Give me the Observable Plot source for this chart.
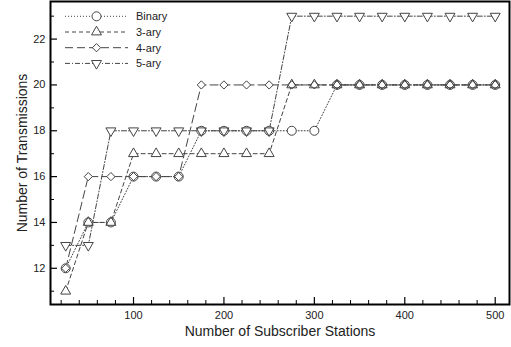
<!DOCTYPE html>
<html><head><meta charset="utf-8">
<script src="https://cdn.jsdelivr.net/npm/d3@7"></script>
<script src="https://cdn.jsdelivr.net/npm/@observablehq/plot@0.6"></script>
<style>
body{margin:0;background:#fff;font-family:"Liberation Sans",Arial,sans-serif;}
#wrap{position:relative;width:511px;height:347px;}
#legend{position:absolute;left:60px;top:8px;}
</style></head><body><div id="wrap"></div>
<script>
// ---- data ----
const stations = [25,50,75,100,125,150,175,200,225,250,275,300,325,350,375,400,425,450,475,500];
const binary = [12,14,14,16,16,16,18,18,18,18,18,18,20,20,20,20,20,20,20,20];
const ary3   = [11,14,14,17,17,17,17,17,17,17,20,20,20,20,20,20,20,20,20,20];
const ary4   = [12,16,16,16,16,16,20,20,20,20,20,20,20,20,20,20,20,20,20,20];
const ary5   = [13,13,18,18,18,18,18,18,18,18,23,23,23,23,23,23,23,23,23,23];
const seriesNames = ["Binary","3-ary","4-ary","5-ary"];
const xMajorTicks = [100,200,300,400,500];
const xMinorTicks = [20,40,60,80,120,140,160,180,220,240,260,280,320,340,360,380,420,440,460,480];
const yMajorTicks = [12,14,16,18,20,22];
const yMinorTicks = [11,13,15,17,19,21,23];
const xLabel = "Number of Subscriber Stations";
const yLabel = "Number of Transmissions";

// ---- styles ----
const styles = [
  {name: seriesNames[0], values: binary, dash: "1,2",     symbol: "circle",   r: 4.5, rotate: 0},
  {name: seriesNames[1], values: ary3,   dash: "4,3",     symbol: "triangle", r: 3.7, rotate: 0},
  {name: seriesNames[2], values: ary4,   dash: "8,4",     symbol: "diamond2", r: 3.7, rotate: 0},
  {name: seriesNames[3], values: ary5,   dash: "5,2,1,2", symbol: "triangle", r: 3.7, rotate: 180}
];
const lineColor = "#444";
const markColor = "#444";

const W = 511, H = 347;
const mL = 50, mR = 2, mT = 1, mB = 43;
const plotW = W - mL - mR, plotH = H - mT - mB;

const tables = styles.map(s => stations.map((x, i) => ({x, y: s.values[i], series: s.name})));

const marks = [];
styles.forEach((s, k) => {
  marks.push(Plot.line(tables[k], {x: "x", y: "y", stroke: lineColor, strokeWidth: 1, strokeDasharray: s.dash}));
});
styles.forEach((s, k) => {
  marks.push(Plot.dot(tables[k], {x: "x", y: "y", symbol: s.symbol, r: s.r, rotate: s.rotate, fill: "white", stroke: "none"}));
});
styles.forEach((s, k) => {
  marks.push(Plot.dot(tables[k], {x: "x", y: "y", symbol: s.symbol, r: s.r, rotate: s.rotate, fill: "none", stroke: markColor, strokeWidth: 1}));
});
// ticks (inward)
marks.push(Plot.ruleX(xMajorTicks, {x: d => d, insetTop: plotH - 7, stroke: "#000", strokeWidth: 1.2}));
marks.push(Plot.ruleX(xMinorTicks, {x: d => d, insetTop: plotH - 4, stroke: "#000", strokeWidth: 1}));
marks.push(Plot.ruleY(yMajorTicks, {y: d => d, insetRight: plotW - 7, stroke: "#000", strokeWidth: 1.2}));
marks.push(Plot.ruleY(yMinorTicks, {y: d => d, insetRight: plotW - 4, stroke: "#000", strokeWidth: 1}));
marks.push(Plot.axisX(xMajorTicks, {tickSize: 0, tickPadding: 7, fontSize: 11, label: null, fill: "#222"}));
marks.push(Plot.axisY(yMajorTicks, {tickSize: 0, tickPadding: 5, fontSize: 11, label: null, fill: "#222"}));
marks.push(Plot.text([xLabel], {text: d => d, frameAnchor: "bottom", dy: 27, lineAnchor: "middle", textAnchor: "middle", fontSize: 14, fill: "#222"}));
marks.push(Plot.text([yLabel], {text: d => d, frameAnchor: "left", dx: -28, rotate: -90, lineAnchor: "middle", textAnchor: "middle", fontSize: 14, fill: "#222"}));
marks.push(Plot.frame({stroke: "#000", strokeWidth: 2}));

const chart = Plot.plot({
  width: W, height: H,
  marginLeft: mL, marginRight: mR, marginTop: mT, marginBottom: mB,
  x: {domain: [8.2, 515.8], axis: null},
  y: {domain: [10.42, 23.64], axis: null},
  style: {fontFamily: "'Liberation Sans', Arial, sans-serif", fontSize: "11px", background: "white", color: "#222"},
  marks
});
const wrap = document.getElementById("wrap");
wrap.appendChild(chart);

// ---- legend overlay ----
const symbolMap = {circle: d3.symbolCircle, triangle: d3.symbolTriangle, diamond2: d3.symbolDiamond2};
const lg = d3.select(wrap).append("svg").attr("id", "legend").attr("width", 120).attr("height", 66)
  .style("font-family", "'Liberation Sans', Arial, sans-serif");
styles.forEach((s, i) => {
  const y = 8.3 + i * 15.7;
  const g = lg.append("g").attr("transform", `translate(0,${y})`);
  g.append("line").attr("x1", 5).attr("x2", 68).attr("y1", 0).attr("y2", 0)
    .attr("stroke", lineColor).attr("stroke-dasharray", s.dash);
  g.append("path").attr("d", d3.symbol(symbolMap[s.symbol], Math.PI * s.r * s.r)())
    .attr("transform", `translate(36.5,0) rotate(${s.rotate})`)
    .attr("fill", "white").attr("stroke", markColor);
  g.append("text").attr("x", 76).attr("y", 0).attr("dy", "0.35em")
    .attr("font-size", 11).attr("fill", "#222").text(s.name);
});
</script></body></html>
